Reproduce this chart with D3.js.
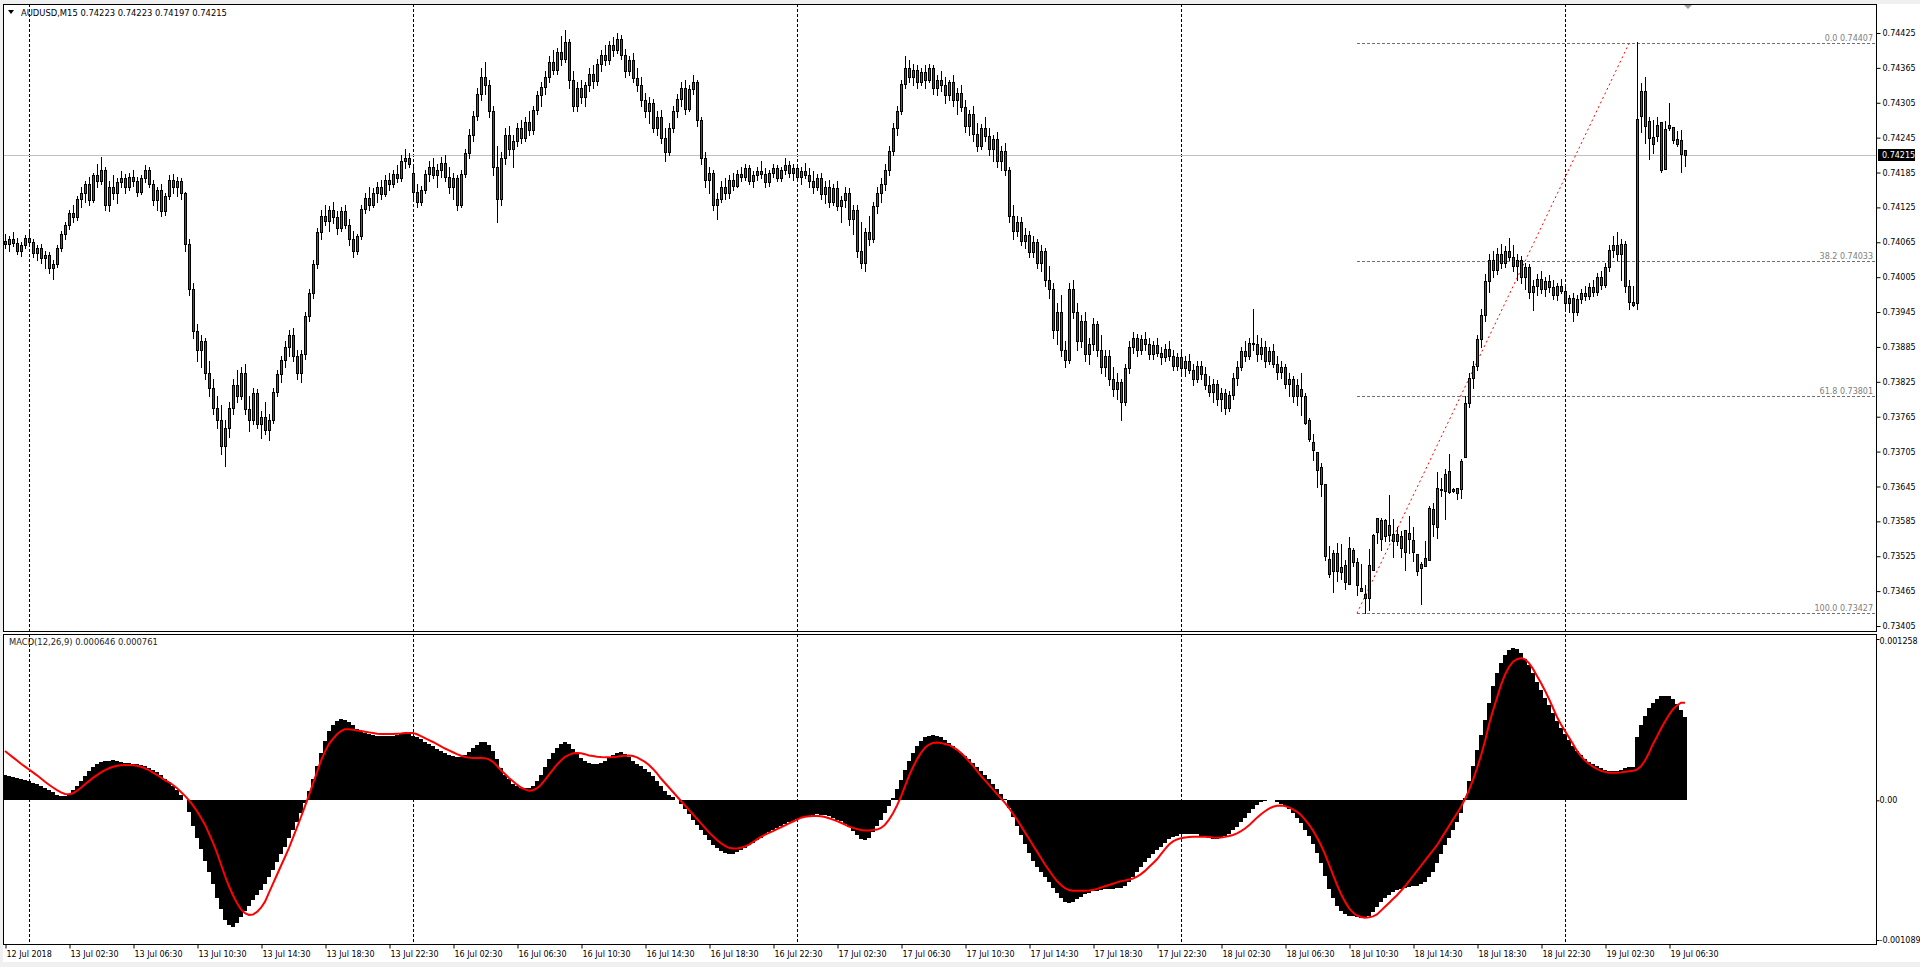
<!DOCTYPE html>
<html><head><meta charset="utf-8">
<script src="https://cdnjs.cloudflare.com/ajax/libs/d3/7.8.5/d3.min.js"></script>
<style>
html,body{margin:0;padding:0;background:#f0f0f0;overflow:hidden}
svg{display:block}
text{font-family:"DejaVu Sans",Verdana,sans-serif}
</style></head><body>
<svg id="c" width="1920" height="967"></svg>
<script>
// ---------------- DATA ----------------
const symbolTitle = "AUDUSD,M15";
const lastOHLC = [0.74223, 0.74223, 0.74197, 0.74215];
const macdTitle = "MACD(12,26,9)";
const macdLast = [0.000646, 0.000761];

const opens = [
.74068,.74062,.74070,.74064,.74050,.74060,.74072,.74066,.74046,.74055,
.74038,.74044,.74020,.74028,.74055,.74080,.74095,.74115,.74108,.74140,
.74150,.74165,.74138,.74180,.74170,.74190,.74130,.74160,.74150,.74168,
.74175,.74160,.74178,.74170,.74152,.74175,.74190,.74165,.74138,.74155,
.74118,.74145,.74172,.74160,.74170,.74150,.74062,.73985,.73912,.73880,
.73895,.73840,.73815,.73780,.73760,.73715,.73745,.73780,.73820,.73800,
.73840,.73778,.73760,.73805,.73752,.73765,.73742,.73760,.73808,.73838,
.73862,.73885,.73905,.73870,.73840,.73872,.73938,.73978,.74028,.74082,
.74110,.74102,.74120,.74108,.74090,.74118,.74095,.74070,.74050,.74075,
.74122,.74142,.74130,.74150,.74160,.74148,.74172,.74165,.74182,.74175,
.74205,.74210,.74185,.74152,.74135,.74155,.74182,.74195,.74180,.74190,
.74202,.74178,.74160,.74175,.74130,.74182,.74218,.74250,.74282,.74320,
.74350,.74335,.74290,.74195,.74140,.74210,.74250,.74225,.74240,.74262,
.74245,.74272,.74258,.74292,.74318,.74332,.74350,.74375,.74362,.74392,
.74380,.74410,.74345,.74300,.74330,.74315,.74335,.74355,.74342,.74372,
.74388,.74378,.74405,.74395,.74415,.74388,.74360,.74378,.74348,.74335,
.74310,.74290,.74305,.74262,.74280,.74245,.74220,.74262,.74290,.74312,
.74330,.74295,.74328,.74340,.74275,.74210,.74172,.74185,.74130,.74140,
.74160,.74150,.74172,.74162,.74182,.74178,.74192,.74170,.74180,.74188,
.74182,.74168,.74185,.74192,.74176,.74190,.74198,.74185,.74192,.74178,
.74188,.74180,.74170,.74160,.74175,.74148,.74160,.74135,.74158,.74128,
.74138,.74150,.74105,.74120,.74050,.74030,.74082,.74070,.74128,.74150,
.74165,.74190,.74222,.74262,.74290,.74338,.74365,.74350,.74362,.74340,
.74358,.74345,.74365,.74330,.74345,.74335,.74318,.74340,.74310,.74322,
.74298,.74265,.74285,.74252,.74230,.74262,.74248,.74225,.74242,.74205,
.74222,.74190,.74110,.74085,.74100,.74068,.74078,.74048,.74065,.74030,
.74050,.74000,.73985,.73915,.73945,.73880,.73862,.73985,.73945,.73895,
.73930,.73872,.73890,.73925,.73880,.73850,.73870,.73830,.73812,.73825,
.73790,.73848,.73885,.73900,.73880,.73898,.73890,.73872,.73888,.73875,
.73868,.73882,.73870,.73852,.73868,.73848,.73860,.73845,.73830,.73852,
.73838,.73820,.73808,.73822,.73795,.73805,.73780,.73802,.73832,.73850,
.73878,.73870,.73892,.73890,.73872,.73885,.73860,.73878,.73855,.73842,
.73850,.73822,.73830,.73800,.73812,.73800,.73760,.73722,.73705,.73679,
.73649,.73521,.73499,.73531,.73498,.73510,.73477,.73536,.73515,.73470,
.73460,.73454,.73502,.73567,.73588,.73560,.73579,.73564,.73552,.73560,
.73532,.73565,.73553,.73528,.73505,.73508,.73518,.73607,.73575,.73641,
.73638,.73672,.73640,.73634,.73641,.73695,.73788,.73832,.73852,.73898,
.73940,.73998,.74035,.74018,.74045,.74030,.74050,.74040,.74025,.74035,
.74005,.74022,.73980,.73990,.74002,.73985,.73998,.73988,.73975,.73990,
.73982,.73960,.73970,.73945,.73968,.73978,.73972,.73988,.73980,.74005,
.73992,.74022,.74052,.74060,.74045,.74062,.73990,.73962,.73960,.74282,
.74325,.74274,.74234,.74248,.74272,.74191,.74267,.74263,.74234,.74241,.74223];
const highs = [
.74080,.74075,.74082,.74072,.74066,.74078,.74085,.74070,.74060,.74062,
.74050,.74048,.74035,.74060,.74085,.74100,.74120,.74130,.74145,.74160,
.74170,.74178,.74185,.74200,.74212,.74195,.74170,.74180,.74175,.74188,
.74182,.74185,.74190,.74178,.74180,.74198,.74195,.74172,.74160,.74165,
.74150,.74180,.74182,.74178,.74175,.74152,.74070,.73995,.73925,.73905,
.73900,.73860,.73830,.73800,.73785,.73760,.73790,.73830,.73845,.73850,
.73855,.73800,.73815,.73812,.73775,.73790,.73770,.73815,.73845,.73870,
.73895,.73915,.73918,.73880,.73880,.73945,.73985,.74035,.74090,.74120,
.74130,.74128,.74135,.74118,.74125,.74130,.74105,.74085,.74080,.74130,
.74150,.74160,.74158,.74168,.74172,.74180,.74185,.74190,.74198,.74215,
.74225,.74218,.74195,.74165,.74162,.74190,.74205,.74210,.74200,.74212,
.74215,.74195,.74185,.74180,.74190,.74225,.74260,.74290,.74330,.74365,
.74375,.74345,.74300,.74230,.74220,.74262,.74265,.74250,.74270,.74275,
.74280,.74290,.74300,.74325,.74340,.74360,.74385,.74395,.74400,.74420,
.74430,.74415,.74360,.74340,.74345,.74340,.74365,.74370,.74380,.74395,
.74405,.74412,.74418,.74425,.74422,.74398,.74385,.74390,.74365,.74350,
.74322,.74315,.74312,.74290,.74292,.74262,.74270,.74300,.74320,.74340,
.74345,.74335,.74352,.74345,.74280,.74220,.74195,.74190,.74150,.74170,
.74175,.74180,.74185,.74190,.74195,.74200,.74198,.74188,.74195,.74205,
.74192,.74190,.74200,.74198,.74195,.74210,.74205,.74200,.74200,.74195,
.74202,.74192,.74188,.74182,.74185,.74170,.74172,.74165,.74170,.74145,
.74160,.74158,.74130,.74130,.74100,.74090,.74110,.74135,.74160,.74175,
.74200,.74230,.74270,.74300,.74345,.74385,.74378,.74372,.74370,.74365,
.74370,.74372,.74370,.74352,.74360,.74350,.74345,.74352,.74330,.74335,
.74310,.74292,.74300,.74270,.74268,.74280,.74262,.74250,.74255,.74230,
.74235,.74195,.74130,.74110,.74108,.74090,.74085,.74075,.74070,.74060,
.74055,.74025,.73995,.73960,.73975,.73895,.73995,.74000,.73960,.73940,
.73945,.73900,.73935,.73930,.73905,.73880,.73880,.73850,.73840,.73830,
.73855,.73895,.73910,.73908,.73905,.73910,.73900,.73895,.73900,.73885,
.73890,.73895,.73880,.73875,.73880,.73870,.73872,.73855,.73860,.73860,
.73850,.73835,.73830,.73828,.73815,.73812,.73810,.73840,.73860,.73885,
.73895,.73900,.73950,.73905,.73900,.73895,.73885,.73890,.73870,.73860,
.73855,.73840,.73835,.73830,.73840,.73805,.73762,.73736,.73705,.73686,
.73649,.73543,.73536,.73548,.73546,.73519,.73558,.73539,.73522,.73512,
.73476,.73538,.73563,.73591,.73591,.73589,.73631,.73589,.73575,.73569,
.73570,.73595,.73575,.73528,.73515,.73552,.73611,.73616,.73670,.73660,
.73675,.73701,.73642,.73642,.73693,.73800,.73840,.73860,.73905,.73950,
.74010,.74045,.74050,.74055,.74062,.74058,.74072,.74060,.74045,.74042,
.74030,.74028,.74000,.74010,.74015,.74005,.74008,.74000,.73995,.74002,
.73990,.73975,.73978,.73975,.73985,.73990,.73995,.74000,.74012,.74015,
.74030,.74060,.74075,.74082,.74070,.74068,.74000,.73990,.74410,.74339,
.74349,.74280,.74275,.74281,.74272,.74274,.74305,.74263,.74256,.74258,.74223];
const lows = [
.74055,.74050,.74058,.74045,.74042,.74056,.74060,.74040,.74035,.74030,
.74020,.74012,.74002,.74022,.74050,.74070,.74088,.74100,.74104,.74125,
.74135,.74130,.74134,.74160,.74165,.74120,.74118,.74140,.74132,.74160,
.74150,.74155,.74162,.74145,.74148,.74168,.74160,.74130,.74120,.74110,
.74112,.74140,.74150,.74145,.74140,.74050,.73975,.73900,.73860,.73850,
.73830,.73800,.73770,.73745,.73700,.73680,.73730,.73770,.73790,.73795,
.73770,.73740,.73752,.73745,.73728,.73735,.73725,.73755,.73800,.73825,
.73850,.73870,.73860,.73830,.73825,.73865,.73930,.73970,.74020,.74070,
.74095,.74085,.74098,.74080,.74085,.74090,.74060,.74040,.74045,.74070,
.74115,.74120,.74125,.74135,.74140,.74145,.74155,.74160,.74168,.74170,
.74192,.74195,.74140,.74125,.74130,.74150,.74170,.74175,.74160,.74178,
.74170,.74150,.74140,.74120,.74125,.74178,.74210,.74240,.74275,.74310,
.74320,.74280,.74180,.74100,.74130,.74200,.74215,.74195,.74230,.74235,
.74240,.74250,.74252,.74285,.74300,.74320,.74340,.74355,.74355,.74370,
.74375,.74330,.74290,.74290,.74305,.74300,.74325,.74330,.74335,.74360,
.74370,.74372,.74385,.74390,.74380,.74350,.74352,.74340,.74325,.74300,
.74280,.74270,.74255,.74250,.74235,.74205,.74215,.74255,.74280,.74300,
.74285,.74290,.74320,.74265,.74200,.74160,.74150,.74120,.74105,.74135,
.74140,.74142,.74155,.74160,.74170,.74172,.74165,.74160,.74172,.74175,
.74160,.74162,.74178,.74170,.74170,.74182,.74178,.74172,.74170,.74165,
.74175,.74160,.74150,.74155,.74140,.74132,.74125,.74130,.74120,.74100,
.74125,.74095,.74080,.74040,.74020,.74015,.74060,.74065,.74115,.74135,
.74155,.74180,.74215,.74250,.74285,.74330,.74340,.74335,.74330,.74335,
.74330,.74340,.74320,.74318,.74325,.74305,.74310,.74300,.74285,.74290,
.74255,.74250,.74240,.74222,.74225,.74240,.74215,.74205,.74195,.74190,
.74180,.74100,.74070,.74075,.74060,.74055,.74040,.74040,.74020,.74015,
.73990,.73970,.73900,.73890,.73870,.73850,.73858,.73935,.73880,.73885,
.73860,.73855,.73880,.73870,.73840,.73835,.73820,.73800,.73795,.73760,
.73785,.73840,.73875,.73870,.73872,.73880,.73865,.73865,.73870,.73855,
.73860,.73862,.73845,.73845,.73840,.73835,.73840,.73820,.73825,.73830,
.73812,.73800,.73790,.73785,.73775,.73770,.73775,.73795,.73820,.73845,
.73860,.73865,.73880,.73860,.73865,.73850,.73855,.73850,.73830,.73832,
.73815,.73800,.73790,.73785,.73768,.73753,.73724,.73691,.73644,.73629,
.73518,.73490,.73463,.73482,.73485,.73469,.73477,.73509,.73459,.73465,
.73427,.73433,.73502,.73547,.73536,.73552,.73552,.73523,.73545,.73523,
.73502,.73531,.73516,.73493,.73443,.73508,.73518,.73560,.73557,.73628,
.73589,.73633,.73636,.73624,.73626,.73695,.73782,.73815,.73845,.73885,
.73930,.73980,.74005,.74010,.74020,.74022,.74035,.74015,.74000,.73995,
.73985,.73970,.73948,.73975,.73978,.73972,.73980,.73968,.73965,.73978,
.73950,.73945,.73930,.73940,.73960,.73965,.73968,.73972,.73975,.73985,
.73988,.74015,.74040,.74035,.74000,.73980,.73950,.73955,.73950,.74255,
.74236,.74208,.74219,.74239,.74186,.74191,.74258,.74236,.74231,.74186,.74197];
const closes = [
.74062,.74070,.74064,.74050,.74060,.74072,.74066,.74046,.74055,.74038,
.74044,.74020,.74028,.74055,.74080,.74095,.74115,.74108,.74140,.74150,
.74165,.74138,.74180,.74170,.74190,.74130,.74160,.74150,.74168,.74175,
.74160,.74178,.74170,.74152,.74175,.74190,.74165,.74138,.74155,.74118,
.74145,.74172,.74160,.74170,.74150,.74062,.73985,.73912,.73880,.73895,
.73840,.73815,.73780,.73760,.73715,.73745,.73780,.73820,.73800,.73840,
.73778,.73760,.73805,.73752,.73765,.73742,.73760,.73808,.73838,.73862,
.73885,.73905,.73870,.73840,.73872,.73938,.73978,.74028,.74082,.74110,
.74102,.74120,.74108,.74090,.74118,.74095,.74070,.74050,.74075,.74122,
.74142,.74130,.74150,.74160,.74148,.74172,.74165,.74182,.74175,.74205,
.74210,.74200,.74152,.74135,.74155,.74182,.74195,.74180,.74190,.74202,
.74178,.74160,.74175,.74130,.74182,.74218,.74250,.74282,.74320,.74350,
.74335,.74290,.74195,.74140,.74210,.74250,.74225,.74240,.74262,.74245,
.74272,.74258,.74292,.74318,.74332,.74350,.74375,.74362,.74392,.74380,
.74410,.74345,.74300,.74330,.74315,.74335,.74355,.74342,.74372,.74388,
.74378,.74405,.74395,.74415,.74388,.74360,.74378,.74348,.74335,.74310,
.74290,.74305,.74262,.74280,.74245,.74220,.74262,.74290,.74312,.74330,
.74295,.74328,.74340,.74275,.74210,.74172,.74185,.74130,.74140,.74160,
.74150,.74172,.74162,.74182,.74178,.74192,.74170,.74180,.74188,.74182,
.74168,.74185,.74192,.74176,.74190,.74198,.74185,.74192,.74178,.74188,
.74180,.74170,.74160,.74175,.74148,.74160,.74135,.74158,.74128,.74138,
.74150,.74105,.74120,.74050,.74030,.74082,.74070,.74128,.74150,.74165,
.74190,.74222,.74262,.74290,.74338,.74365,.74350,.74362,.74340,.74358,
.74345,.74365,.74330,.74345,.74335,.74318,.74340,.74310,.74322,.74298,
.74265,.74285,.74252,.74230,.74262,.74248,.74225,.74242,.74205,.74222,
.74190,.74110,.74085,.74100,.74068,.74078,.74048,.74065,.74030,.74050,
.74000,.73985,.73915,.73945,.73880,.73862,.73985,.73945,.73895,.73930,
.73872,.73890,.73925,.73880,.73850,.73870,.73830,.73812,.73825,.73790,
.73848,.73885,.73900,.73880,.73898,.73890,.73872,.73888,.73875,.73868,
.73882,.73870,.73852,.73868,.73848,.73860,.73845,.73830,.73852,.73838,
.73820,.73808,.73822,.73795,.73805,.73780,.73802,.73832,.73850,.73878,
.73870,.73892,.73890,.73872,.73885,.73860,.73878,.73855,.73842,.73850,
.73822,.73830,.73800,.73820,.73800,.73755,.73726,.73708,.73673,.73649,
.73526,.73494,.73531,.73499,.73507,.73481,.73539,.73515,.73475,.73465,
.73454,.73510,.73561,.73591,.73554,.73587,.73561,.73552,.73563,.73539,
.73570,.73554,.73533,.73499,.73512,.73522,.73608,.73580,.73642,.73639,
.73666,.73636,.73637,.73642,.73688,.73788,.73832,.73852,.73898,.73940,
.73998,.74035,.74018,.74045,.74030,.74050,.74040,.74025,.74035,.74005,
.74022,.73980,.73990,.74002,.73985,.73998,.73988,.73975,.73990,.73982,
.73960,.73970,.73945,.73968,.73978,.73972,.73988,.73980,.74005,.73992,
.74022,.74052,.74060,.74045,.74062,.73990,.73962,.73958,.74277,.74325,
.74265,.74244,.74246,.74266,.74189,.74260,.74262,.74241,.74243,.74217,.74215];

const macdMain = [
197e-6,190e-6,182e-6,172e-6,165e-6,158e-6,148e-6,138e-6,125e-6,112e-6,
98e-6,82e-6,62e-6,45e-6,30e-6,35e-6,52e-6,78e-6,110e-6,148e-6,
190e-6,225e-6,258e-6,285e-6,302e-6,305e-6,310e-6,312e-6,305e-6,300e-6,
295e-6,290e-6,285e-6,280e-6,275e-6,265e-6,255e-6,238e-6,218e-6,195e-6,
170e-6,140e-6,110e-6,80e-6,45e-6,5e-6,-90e-6,-200e-6,-290e-6,-380e-6,
-470e-6,-560e-6,-650e-6,-760e-6,-850e-6,-930e-6,-975e-6,-985e-6,-960e-6,-910e-6,
-860e-6,-820e-6,-780e-6,-740e-6,-700e-6,-650e-6,-600e-6,-540e-6,-480e-6,-420e-6,
-360e-6,-290e-6,-230e-6,-170e-6,-100e-6,-20e-6,70e-6,170e-6,270e-6,370e-6,
460e-6,540e-6,590e-6,620e-6,635e-6,628e-6,610e-6,585e-6,560e-6,540e-6,
525e-6,515e-6,510e-6,505e-6,500e-6,498e-6,500e-6,505e-6,510e-6,515e-6,
520e-6,518e-6,505e-6,490e-6,475e-6,458e-6,440e-6,420e-6,400e-6,385e-6,
370e-6,355e-6,345e-6,335e-6,340e-6,355e-6,380e-6,410e-6,435e-6,455e-6,
455e-6,430e-6,385e-6,320e-6,250e-6,200e-6,165e-6,130e-6,110e-6,100e-6,
95e-6,100e-6,115e-6,150e-6,200e-6,260e-6,320e-6,370e-6,410e-6,440e-6,
455e-6,440e-6,400e-6,360e-6,330e-6,305e-6,295e-6,285e-6,280e-6,290e-6,
310e-6,335e-6,355e-6,370e-6,375e-6,365e-6,340e-6,310e-6,285e-6,265e-6,
245e-6,220e-6,190e-6,150e-6,110e-6,70e-6,45e-6,25e-6,5e-6,-30e-6,
-70e-6,-110e-6,-150e-6,-190e-6,-230e-6,-270e-6,-310e-6,-345e-6,-375e-6,-395e-6,
-410e-6,-418e-6,-415e-6,-405e-6,-390e-6,-370e-6,-350e-6,-330e-6,-310e-6,-290e-6,
-270e-6,-250e-6,-230e-6,-215e-6,-200e-6,-185e-6,-170e-6,-158e-6,-148e-6,-140e-6,
-130e-6,-120e-6,-112e-6,-110e-6,-112e-6,-118e-6,-125e-6,-135e-6,-150e-6,-165e-6,
-185e-6,-210e-6,-240e-6,-270e-6,-300e-6,-310e-6,-290e-6,-250e-6,-200e-6,-150e-6,
-100e-6,-45e-6,20e-6,90e-6,160e-6,240e-6,310e-6,370e-6,420e-6,460e-6,
490e-6,505e-6,510e-6,505e-6,490e-6,470e-6,445e-6,420e-6,395e-6,370e-6,
345e-6,320e-6,290e-6,260e-6,230e-6,200e-6,165e-6,130e-6,90e-6,50e-6,
10e-6,-60e-6,-130e-6,-200e-6,-270e-6,-340e-6,-410e-6,-470e-6,-520e-6,-560e-6,
-600e-6,-640e-6,-680e-6,-720e-6,-760e-6,-790e-6,-800e-6,-790e-6,-770e-6,-750e-6,
-730e-6,-720e-6,-710e-6,-705e-6,-700e-6,-695e-6,-690e-6,-690e-6,-685e-6,-680e-6,
-670e-6,-640e-6,-600e-6,-560e-6,-520e-6,-480e-6,-450e-6,-420e-6,-390e-6,-360e-6,
-330e-6,-300e-6,-285e-6,-275e-6,-265e-6,-262e-6,-260e-6,-260e-6,-265e-6,-275e-6,
-285e-6,-295e-6,-300e-6,-300e-6,-295e-6,-280e-6,-260e-6,-235e-6,-205e-6,-170e-6,
-135e-6,-100e-6,-65e-6,-35e-6,-15e-6,-5e-6,5e-6,0,-10e-6,-25e-6,
-45e-6,-70e-6,-100e-6,-140e-6,-180e-6,-230e-6,-280e-6,-340e-6,-410e-6,-490e-6,
-590e-6,-690e-6,-760e-6,-820e-6,-860e-6,-890e-6,-900e-6,-905e-6,-910e-6,-915e-6,
-920e-6,-905e-6,-870e-6,-830e-6,-790e-6,-760e-6,-735e-6,-715e-6,-700e-6,-690e-6,
-680e-6,-675e-6,-670e-6,-665e-6,-655e-6,-640e-6,-600e-6,-560e-6,-490e-6,-420e-6,
-350e-6,-290e-6,-230e-6,-170e-6,-100e-6,20e-6,150e-6,270e-6,390e-6,510e-6,
630e-6,760e-6,890e-6,990e-6,1070e-6,1130e-6,1170e-6,1185e-6,1180e-6,1150e-6,
1105e-6,1055e-6,990e-6,925e-6,860e-6,800e-6,740e-6,680e-6,620e-6,565e-6,
515e-6,470e-6,425e-6,385e-6,350e-6,320e-6,300e-6,280e-6,265e-6,250e-6,
235e-6,225e-6,225e-6,232e-6,240e-6,250e-6,258e-6,262e-6,490e-6,590e-6,
660e-6,720e-6,760e-6,790e-6,810e-6,815e-6,812e-6,790e-6,755e-6,705e-6,646e-6];

const macdSignal = [
385e-6,360e-6,335e-6,310e-6,285e-6,263e-6,240e-6,218e-6,195e-6,170e-6,
145e-6,122e-6,100e-6,80e-6,62e-6,50e-6,47e-6,55e-6,75e-6,98e-6,
125e-6,150e-6,175e-6,197e-6,218e-6,235e-6,250e-6,262e-6,270e-6,273e-6,
275e-6,275e-6,273e-6,270e-6,262e-6,250e-6,235e-6,216e-6,198e-6,178e-6,
158e-6,141e-6,120e-6,95e-6,65e-6,35e-6,0,-40e-6,-85e-6,-135e-6,
-190e-6,-260e-6,-330e-6,-410e-6,-500e-6,-590e-6,-670e-6,-740e-6,-800e-6,-850e-6,
-880e-6,-893e-6,-890e-6,-870e-6,-837e-6,-790e-6,-720e-6,-649e-6,-580e-6,-510e-6,
-442e-6,-370e-6,-290e-6,-210e-6,-130e-6,-45e-6,40e-6,130e-6,220e-6,310e-6,
380e-6,440e-6,479e-6,515e-6,540e-6,555e-6,555e-6,550e-6,545e-6,540e-6,
535e-6,530e-6,525e-6,520e-6,518e-6,517e-6,517e-6,518e-6,520e-6,522e-6,
525e-6,526e-6,526e-6,515e-6,500e-6,485e-6,470e-6,455e-6,438e-6,420e-6,
404e-6,390e-6,375e-6,360e-6,348e-6,338e-6,333e-6,330e-6,330e-6,330e-6,
329e-6,320e-6,300e-6,270e-6,235e-6,205e-6,175e-6,148e-6,122e-6,100e-6,
85e-6,75e-6,78e-6,95e-6,122e-6,160e-6,200e-6,240e-6,280e-6,310e-6,
340e-6,355e-6,367e-6,370e-6,367e-6,360e-6,350e-6,345e-6,340e-6,337e-6,
335e-6,335e-6,338e-6,340e-6,345e-6,348e-6,350e-6,345e-6,335e-6,318e-6,
300e-6,275e-6,245e-6,210e-6,170e-6,135e-6,100e-6,65e-6,30e-6,-5e-6,
-40e-6,-75e-6,-110e-6,-145e-6,-180e-6,-215e-6,-250e-6,-280e-6,-310e-6,-335e-6,
-355e-6,-370e-6,-376e-6,-376e-6,-370e-6,-360e-6,-345e-6,-325e-6,-305e-6,-285e-6,
-268e-6,-254e-6,-240e-6,-225e-6,-210e-6,-195e-6,-180e-6,-165e-6,-150e-6,-135e-6,
-128e-6,-124e-6,-122e-6,-122e-6,-124e-6,-130e-6,-140e-6,-150e-6,-162e-6,-175e-6,
-190e-6,-205e-6,-215e-6,-224e-6,-232e-6,-236e-6,-235e-6,-232e-6,-228e-6,-215e-6,
-190e-6,-150e-6,-100e-6,-40e-6,30e-6,110e-6,190e-6,260e-6,320e-6,370e-6,
410e-6,435e-6,448e-6,451e-6,448e-6,440e-6,432e-6,415e-6,395e-6,370e-6,
340e-6,305e-6,270e-6,230e-6,190e-6,155e-6,120e-6,85e-6,50e-6,15e-6,
-20e-6,-60e-6,-105e-6,-150e-6,-200e-6,-250e-6,-300e-6,-350e-6,-400e-6,-450e-6,
-500e-6,-545e-6,-590e-6,-630e-6,-660e-6,-685e-6,-700e-6,-705e-6,-705e-6,-705e-6,
-705e-6,-703e-6,-700e-6,-690e-6,-680e-6,-670e-6,-660e-6,-650e-6,-640e-6,-630e-6,
-625e-6,-618e-6,-610e-6,-595e-6,-575e-6,-550e-6,-520e-6,-490e-6,-460e-6,-420e-6,
-380e-6,-345e-6,-320e-6,-305e-6,-295e-6,-290e-6,-285e-6,-283e-6,-283e-6,-283e-6,
-284e-6,-286e-6,-289e-6,-291e-6,-290e-6,-285e-6,-278e-6,-270e-6,-258e-6,-240e-6,
-220e-6,-195e-6,-165e-6,-135e-6,-108e-6,-85e-6,-65e-6,-50e-6,-42e-6,-40e-6,
-45e-6,-55e-6,-70e-6,-90e-6,-115e-6,-150e-6,-190e-6,-235e-6,-290e-6,-350e-6,
-420e-6,-500e-6,-580e-6,-660e-6,-730e-6,-790e-6,-840e-6,-875e-6,-898e-6,-910e-6,
-915e-6,-912e-6,-905e-6,-890e-6,-860e-6,-830e-6,-800e-6,-770e-6,-740e-6,-705e-6,
-670e-6,-630e-6,-590e-6,-550e-6,-510e-6,-470e-6,-430e-6,-390e-6,-350e-6,-300e-6,
-250e-6,-200e-6,-150e-6,-100e-6,-50e-6,10e-6,80e-6,160e-6,250e-6,350e-6,
460e-6,592e-6,700e-6,800e-6,900e-6,980e-6,1040e-6,1081e-6,1100e-6,1110e-6,
1100e-6,1070e-6,1025e-6,970e-6,915e-6,855e-6,790e-6,720e-6,650e-6,592e-6,
540e-6,490e-6,440e-6,385e-6,345e-6,310e-6,285e-6,263e-6,245e-6,230e-6,
222e-6,216e-6,215e-6,215e-6,218e-6,222e-6,226e-6,230e-6,240e-6,265e-6,
310e-6,370e-6,440e-6,498e-6,560e-6,615e-6,667e-6,710e-6,740e-6,761e-6,761e-6];

const timeLabels = ["12 Jul 2018","13 Jul 02:30","13 Jul 06:30","13 Jul 10:30","13 Jul 14:30","13 Jul 18:30","13 Jul 22:30",
"16 Jul 02:30","16 Jul 06:30","16 Jul 10:30","16 Jul 14:30","16 Jul 18:30","16 Jul 22:30",
"17 Jul 02:30","17 Jul 06:30","17 Jul 10:30","17 Jul 14:30","17 Jul 18:30","17 Jul 22:30",
"18 Jul 02:30","18 Jul 06:30","18 Jul 10:30","18 Jul 14:30","18 Jul 18:30","18 Jul 22:30",
"19 Jul 02:30","19 Jul 06:30"];
const timeLabelBars = [0,16,32,48,64,80,96,112,128,144,160,176,192,208,224,240,256,272,288,304,320,336,352,368,384,400,416];
const daySeparatorBars = [6,102,198,294,390];
const priceTicks = [0.73405,0.73465,0.73525,0.73585,0.73645,0.73705,0.73765,0.73825,0.73885,0.73945,0.74005,0.74065,0.74125,0.74185,0.74245,0.74305,0.74365,0.74425];
const macdTicks = [0.001258, 0, -0.001089];
const macdTickLabels = ["0.001258", "0.00", "-0.001089"];
const fibLevels = ["0.0","38.2","61.8","100.0"];
const fibPrices = [0.74407, 0.74033, 0.73801, 0.73427];
const fibAnchorBars = [338, 406];   // low anchor, high anchor

// ---------------- LAYOUT ----------------
const L = 3, R = 1876;
const mainTop = 4, mainBot = 631, macdTop = 634, macdBot = 944;
const svg = d3.select("#c");

svg.append("rect").attr("x",3).attr("y",4).attr("width",1917).attr("height",958).attr("fill","#fff");

const n = closes.length;
const x = d3.scaleLinear().domain([0, n - 1]).range([5, 5 + 4 * (n - 1)]);
const y = d3.scaleLinear().domain([0.73405, 0.74425]).range([626, 33]);
const ym = d3.scaleLinear().domain([-0.001089, 0.001258]).range([940, 639]);

// clip paths
const defs = svg.append("defs");
defs.append("clipPath").attr("id","cm").append("rect").attr("x",L+1).attr("y",mainTop+1).attr("width",R-L-1).attr("height",mainBot-mainTop-1);
defs.append("clipPath").attr("id","cd").append("rect").attr("x",L+1).attr("y",macdTop+1).attr("width",R-L-1).attr("height",macdBot-macdTop-1);

// day separators (both panels)
const sepG = svg.append("g");
[[mainTop, mainBot], [macdTop, macdBot]].forEach(([a,b]) => {
  sepG.selectAll(null).data(daySeparatorBars).enter().append("line")
    .attr("x1", d => x(d) + 0.5).attr("x2", d => x(d) + 0.5)
    .attr("y1", a).attr("y2", b)
    .attr("stroke", "#000").attr("stroke-dasharray", "3,2").attr("stroke-width", 1);
});

// main panel
const gm = svg.append("g").attr("clip-path","url(#cm)");

// current price line
gm.append("line").attr("x1",L).attr("x2",R).attr("y1",Math.round(y(lastOHLC[3]))+0.5).attr("y2",Math.round(y(lastOHLC[3]))+0.5)
  .attr("stroke","#c0c0c0").attr("stroke-width",1);

// fibo lines
const fx0 = x(fibAnchorBars[0]);
gm.selectAll(".fib").data(fibPrices).enter().append("line")
  .attr("x1", fx0).attr("x2", R).attr("y1", d => Math.round(y(d)) + 0.5).attr("y2", d => Math.round(y(d)) + 0.5)
  .attr("stroke", "#707070").attr("stroke-dasharray", "3,2").attr("stroke-width", 1);
gm.selectAll(".fibt").data(fibPrices).enter().append("text")
  .attr("x", R - 3).attr("y", d => Math.round(y(d)) - 2)
  .attr("text-anchor","end").attr("font-size","8px").attr("fill","#808080")
  .text((d,i) => fibLevels[i] + " " + d.toFixed(5));
// fibo trend line (dotted red)
gm.append("line").attr("x1", x(fibAnchorBars[0])).attr("y1", y(fibPrices[3]))
  .attr("x2", x(fibAnchorBars[1])).attr("y2", y(fibPrices[0]))
  .attr("stroke","#ff0000").attr("stroke-width",1).attr("stroke-dasharray","2,3");

// candles
const cg = gm.append("g").attr("shape-rendering","crispEdges");
const idx = d3.range(n);
cg.selectAll(".w").data(idx).enter().append("line")
  .attr("x1", i => x(i) + 0.5).attr("x2", i => x(i) + 0.5)
  .attr("y1", i => Math.round(y(highs[i]))).attr("y2", i => Math.round(y(lows[i])) + 1)
  .attr("stroke", "#000").attr("stroke-width", 1);
cg.selectAll(".b").data(idx).enter().append("rect")
  .attr("x", i => x(i) - 0.5)
  .attr("y", i => Math.round(y(Math.max(opens[i], closes[i]))) + 0.5)
  .attr("width", 2)
  .attr("height", i => Math.max(0, Math.round(y(Math.min(opens[i], closes[i]))) - Math.round(y(Math.max(opens[i], closes[i])))))
  .attr("fill", i => closes[i] >= opens[i] ? "#2f6e4b" : "#b5213d")
  .attr("stroke", "#000").attr("stroke-width", 1);

// header
svg.append("path").attr("d","M8,10 L14,10 L11,14 Z").attr("fill","#000");
svg.append("text").attr("x",21).attr("y",16).attr("font-size","8.4px").attr("fill","#000")
  .text(symbolTitle + "  " + lastOHLC.map(v => v.toFixed(5)).join(" "));
// chart shift marker
svg.append("path").attr("d","M1683,4 L1693,4 L1688,9 Z").attr("fill","#a0a0a0");

// MACD panel
const gd = svg.append("g").attr("clip-path","url(#cd)");
gd.append("g").attr("shape-rendering","crispEdges").selectAll("rect").data(idx).enter().append("rect")
  .attr("x", i => x(i) - 2).attr("width", 4)
  .attr("y", i => Math.min(ym(macdMain[i]), ym(0)))
  .attr("height", i => Math.abs(ym(macdMain[i]) - ym(0)))
  .attr("fill", "#000");
gd.append("path").datum(idx)
  .attr("d", d3.line().x(i => x(i)).y(i => ym(macdSignal[i])))
  .attr("fill","none").attr("stroke","#ff0000").attr("stroke-width",2);
svg.append("text").attr("x",9).attr("y",645).attr("font-size","8.4px").attr("fill","#222")
  .text(macdTitle + " " + macdLast.map(v => v.toFixed(6)).join(" "));

// frames
svg.append("rect").attr("x",L+0.5).attr("y",mainTop+0.5).attr("width",R-L).attr("height",mainBot-mainTop)
  .attr("fill","none").attr("stroke","#000");
svg.append("rect").attr("x",L+0.5).attr("y",macdTop+0.5).attr("width",R-L).attr("height",macdBot-macdTop)
  .attr("fill","none").attr("stroke","#000");

// price axis
const pa = svg.append("g").attr("transform",`translate(${R+0.5},0)`)
  .call(d3.axisRight(y).tickValues(priceTicks).tickFormat(d3.format(".5f")).tickSize(4).tickPadding(2));
pa.select(".domain").remove();
pa.selectAll("text").attr("font-family","DejaVu Sans").attr("font-size","8px").attr("fill","#000");
pa.selectAll("line").attr("stroke","#000");

// current price box
const cy = Math.round(y(lastOHLC[3]));
svg.append("rect").attr("x",1878).attr("y",cy-6).attr("width",37).attr("height",12).attr("fill","#000");
svg.append("text").attr("x",1882).attr("y",cy+3).attr("font-size","8px").attr("fill","#fff").text(lastOHLC[3].toFixed(5));

// macd axis
const ma = svg.append("g").attr("transform",`translate(${R+0.5},0)`)
  .call(d3.axisRight(ym).tickValues(macdTicks).tickFormat((d,i) => macdTickLabels[i]).tickSize(3).tickPadding(0));
ma.select(".domain").remove();
ma.selectAll("text").attr("font-family","DejaVu Sans").attr("font-size","8px").attr("fill","#000")
  .attr("dy", (d,i) => i === 0 ? "0.55em" : "0.32em");
ma.selectAll("line").attr("stroke","#000");

// time axis
const ta = svg.append("g").attr("transform",`translate(0,${macdBot+0.5})`)
  .call(d3.axisBottom(x).tickValues(timeLabelBars).tickFormat((d,i) => timeLabels[i]).tickSize(4).tickPadding(3));
ta.select(".domain").remove();
ta.selectAll("line").attr("stroke","#000").attr("transform","translate(0.5,0)");
ta.selectAll("text").attr("font-family","DejaVu Sans").attr("font-size","8px").attr("fill","#000")
  .attr("text-anchor","start").attr("dx","1");
</script>
</body></html>
